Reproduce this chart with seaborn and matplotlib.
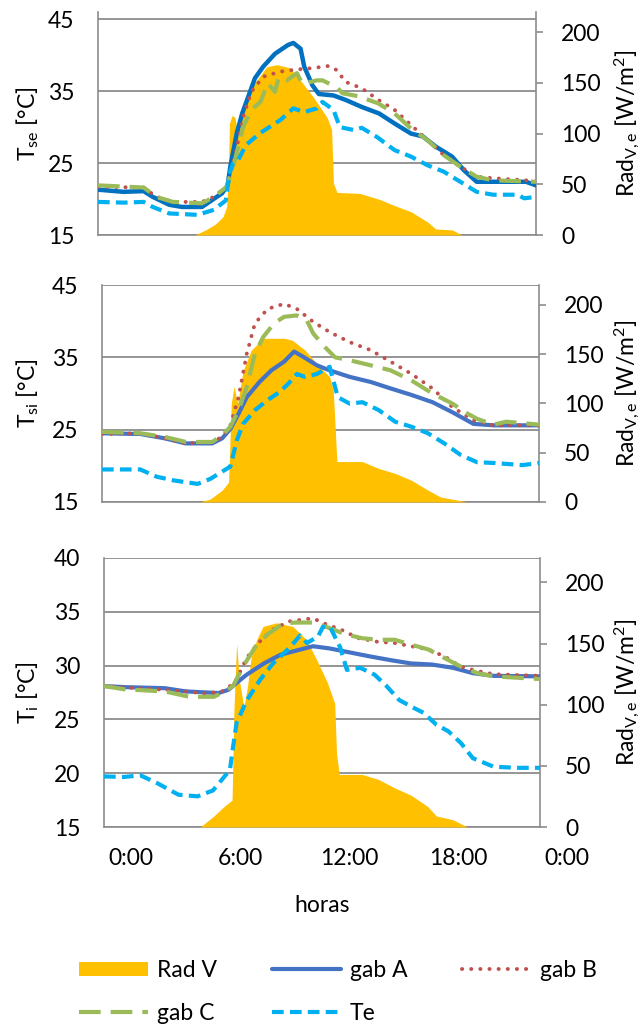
import matplotlib
matplotlib.use("Agg")
import matplotlib.pyplot as plt
import seaborn as sns
from matplotlib.patches import Patch
from matplotlib.lines import Line2D

# ── Dados (horas, valor) ──────────────────────────────────────────────────────
# Painel 1: temperatura superficial externa T_se
se_A_h = [-1.5, -0.1, 1.0, 1.5, 2.4, 3.1, 4.2, 4.6, 5.3, 5.6, 5.75, 6.1, 6.4, 6.8, 7.1, 7.55, 8.2, 8.9,
          9.2, 9.6, 9.8, 10.25, 10.6, 11.4, 12.05, 12.95, 13.9, 14.75, 15.65, 16.3, 17.0, 17.9, 18.55,
          19.25, 20.15, 21.95, 22.5]
se_A = [21.3, 21.0, 21.1, 20.3, 19.2, 18.9, 18.9, 19.6, 20.8, 21.9, 24.5, 29.1, 31.9, 34.7, 36.8, 38.4,
        40.2, 41.4, 41.7, 40.9, 38.4, 35.8, 34.6, 34.4, 33.8, 32.8, 31.9, 30.5, 29.1, 28.7, 27.3, 25.9,
        24.0, 22.4, 22.4, 22.4, 21.9]
se_B_h = [-1.5, 1.0, 1.7, 2.6, 4.2, 4.85, 5.55, 6.0, 6.45, 6.9, 7.55, 8.45, 9.35, 10.25, 11.15, 11.6,
          12.05, 12.95, 13.85, 14.75, 15.65, 16.55, 17.45, 18.35, 19.25, 20.15, 21.95, 22.5]
se_B = [21.7, 21.6, 20.3, 19.6, 19.6, 20.3, 21.7, 25.9, 31.4, 34.9, 37.0, 37.7, 38.0, 38.2, 38.5, 37.9,
        36.3, 35.4, 33.8, 32.4, 30.3, 28.2, 26.1, 24.5, 23.1, 22.9, 22.6, 22.4]
se_C_h = [-1.5, 1.0, 1.7, 2.6, 4.2, 4.85, 5.55, 6.0, 6.45, 6.9, 7.4, 7.8, 8.2, 8.4, 8.85, 9.4, 9.7,
          10.5, 10.8, 11.6, 11.9, 12.75, 13.85, 14.75, 15.65, 16.55, 17.45, 18.35, 19.25, 20.15, 22.5]
se_C = [21.9, 21.6, 20.3, 19.6, 19.4, 20.3, 21.7, 25.4, 30.0, 32.4, 33.5, 36.1, 34.9, 36.9, 36.5, 37.5,
        36.0, 36.5, 36.5, 35.5, 34.7, 34.3, 33.3, 31.9, 29.8, 28.2, 26.1, 24.5, 23.1, 22.6, 22.4]
se_Te_h = [-1.5, -0.1, 1.0, 1.5, 2.4, 3.95, 4.85, 5.5, 5.7, 5.9, 6.2, 6.6, 7.4, 8.5, 9.2, 9.8, 10.5,
           10.8, 11.4, 11.75, 12.5, 12.95, 13.8, 14.75, 15.65, 16.55, 17.45, 18.35, 19.25, 20.15,
           21.5, 21.85, 22.5]
se_Te = [19.6, 19.5, 19.6, 18.9, 18.0, 17.8, 18.5, 19.8, 23.5, 25.0, 25.5, 27.5, 29.2, 31.0, 32.6, 32.1,
         32.6, 33.5, 32.4, 30.0, 29.6, 29.9, 28.6, 26.8, 25.9, 24.7, 23.8, 22.4, 21.0, 20.6, 20.6, 20.1,
         20.3]
se_rad_h = [3.8, 4.4, 4.95, 5.35, 5.55, 5.65, 5.7, 5.85, 6.0, 6.1, 6.45, 7.0, 7.75, 8.3, 9.0, 9.7,
            10.3, 11.05, 11.3, 11.4, 11.6, 12.85, 13.95, 14.75, 15.65, 16.55, 17.0, 17.9, 18.45]
se_rad = [0, 5, 11, 18, 28, 60, 110, 118, 116, 106, 120, 148, 166, 168, 165, 150, 136, 116, 104, 51,
          42, 41, 35, 29, 23, 13, 6, 5, 0]

# Painel 2: temperatura superficial interna T_si
si_A_h = [-1.5, 0.6, 1.95, 3.1, 4.55, 5.1, 5.55, 6.0, 6.45, 7.15, 7.8, 8.5, 9.05, 9.6, 10.3, 11.0,
          12.1, 13.25, 14.35, 15.5, 16.65, 17.75, 18.9, 20.0, 22.5]
si_A = [24.5, 24.4, 23.8, 23.1, 23.1, 23.8, 25.1, 27.2, 29.5, 31.6, 33.2, 34.4, 35.8, 35.0, 33.9, 33.2,
        32.3, 31.6, 30.7, 29.8, 28.8, 27.4, 25.8, 25.6, 25.6]
si_B_h = [-1.5, 0.6, 1.95, 3.1, 4.55, 5.1, 5.55, 6.0, 6.45, 6.9, 7.6, 8.5, 9.2, 10.1, 11.0, 12.1, 13.25,
          14.35, 15.5, 16.65, 17.75, 18.9, 20.0, 22.5]
si_B = [24.4, 24.5, 23.8, 23.1, 23.3, 24.0, 25.6, 29.5, 35.5, 39.7, 41.7, 42.4, 41.7, 39.9, 38.5, 37.1,
        36.0, 34.4, 32.7, 30.7, 28.1, 26.3, 25.6, 25.6]
si_C_h = [-1.5, 0.6, 1.95, 3.1, 4.55, 5.1, 5.55, 6.0, 6.45, 6.9, 7.35, 7.95, 8.5, 9.2, 9.75, 10.1,
          10.75, 11.3, 12.1, 13.25, 14.35, 15.5, 16.65, 17.75, 18.45, 19.1, 20.0, 20.7, 22.5]
si_C = [24.7, 24.5, 24.0, 23.3, 23.3, 24.2, 25.4, 27.7, 30.9, 35.5, 37.8, 39.7, 40.6, 40.8, 40.1, 38.3,
        36.4, 35.0, 34.6, 33.9, 33.2, 31.8, 30.0, 28.6, 27.4, 26.5, 25.7, 26.1, 25.7]
si_Te_h = [-1.5, 0.6, 1.5, 2.4, 3.75, 4.45, 5.1, 5.55, 5.9, 6.25, 6.9, 7.6, 8.25, 8.75, 9.2, 9.65, 10.3,
           11.0, 11.45, 12.1, 12.8, 13.7, 14.6, 15.5, 16.4, 17.3, 18.2, 19.1, 20.0, 21.6, 22.5]
si_Te = [19.5, 19.5, 18.5, 18.0, 17.5, 18.2, 19.2, 19.9, 23.5, 25.8, 27.7, 29.1, 30.2, 31.4, 32.7, 32.3,
         32.7, 33.7, 29.5, 28.6, 28.8, 27.7, 26.1, 25.4, 24.5, 23.1, 21.5, 20.5, 20.4, 20.1, 20.4]
si_rad_h = [3.85, 4.45, 5.1, 5.45, 5.6, 5.75, 5.95, 6.25, 6.7, 7.15, 7.4, 8.5, 8.95, 9.65, 10.3, 11.0,
            11.2, 11.4, 12.8, 13.7, 14.6, 15.5, 16.4, 17.1, 18.0, 18.55]
si_rad = [0, 3, 12, 20, 100, 117, 100, 133, 154, 162, 166, 166, 164, 154, 140, 127, 113, 41, 41, 34,
          29, 22, 12, 5, 2, 0]

# Painel 3: temperatura interna T_i
i_A_h = [-1.5, -0.4, 1.85, 3.0, 4.8, 5.35, 5.8, 6.35, 7.3, 8.2, 9.1, 10.0, 10.9, 11.8, 13.15, 14.3,
         15.4, 16.55, 17.7, 18.8, 19.95, 22.5]
i_A = [28.1, 28.0, 27.9, 27.6, 27.45, 27.75, 28.4, 29.15, 30.2, 31.0, 31.4, 31.8, 31.6, 31.3, 30.85,
       30.5, 30.2, 30.1, 29.8, 29.3, 29.05, 29.0]
i_B_h = [-1.5, 1.85, 3.0, 4.1, 5.0, 5.7, 6.35, 7.05, 7.75, 8.65, 10.0, 10.65, 11.6, 12.5, 13.6, 14.5,
         15.4, 16.35, 17.25, 18.15, 19.05, 19.95, 22.5]
i_B = [28.1, 27.75, 27.6, 27.4, 27.6, 28.4, 30.7, 32.2, 33.3, 34.1, 34.4, 33.9, 33.3, 32.55, 32.2, 32.1,
       31.8, 31.5, 30.85, 29.9, 29.5, 29.2, 29.05]
i_C_h = [-1.5, -0.4, 1.85, 3.2, 4.55, 5.15, 5.6, 6.15, 6.85, 7.5, 8.4, 9.1, 10.0, 10.9, 11.8, 12.7,
         13.6, 14.5, 15.4, 16.35, 17.25, 18.15, 19.05, 19.95, 22.5]
i_C = [28.1, 27.8, 27.6, 27.1, 27.1, 27.6, 28.1, 29.9, 31.8, 32.9, 33.95, 34.0, 34.0, 33.5, 32.9, 32.55,
       32.4, 32.4, 31.95, 31.5, 30.7, 29.9, 29.3, 29.0, 28.75]
i_Te_h = [-1.5, -0.4, 0.5, 1.4, 2.6, 3.65, 4.5, 5.43, 5.6, 5.8, 6.37, 7.1, 7.8, 8.74, 9.29, 9.67, 10.28,
          10.55, 10.94, 11.5, 11.87, 12.6, 13.4, 14.05, 14.75, 15.4, 16.1, 16.8, 17.45, 18.15, 18.8,
          19.95, 21.3, 22.5]
i_Te = [19.7, 19.65, 19.8, 19.1, 18.0, 17.85, 18.4, 20.3, 22.4, 24.7, 26.8, 28.7, 30.2, 31.7, 32.8,
        32.1, 32.7, 33.6, 33.6, 31.7, 29.6, 29.8, 29.15, 28.1, 26.8, 26.2, 25.6, 24.5, 23.9, 22.8, 21.4,
        20.6, 20.5, 20.5]
i_rad_h = [3.8, 4.55, 5.05, 5.55, 5.65, 5.8, 5.95, 6.2, 6.4, 6.6, 6.9, 7.25, 8.0, 8.9, 9.65, 10.2, 10.8,
           11.2, 11.3, 11.45, 12.7, 13.6, 14.5, 15.4, 16.3, 16.8, 17.7, 18.5]
i_rad = [0, 9, 16, 22, 95, 150, 120, 98, 115, 139, 153, 164, 167, 164, 153, 137, 118, 101, 60, 43, 43,
         39, 32, 26, 17, 9, 6, 0]

hora_ticks = [0, 6, 12, 18]
hora_labels = ["0:00", "6:00", "12:00", "18:00"]
rad_ticks = [0, 50, 100, 150, 200]

# ── Estilo ────────────────────────────────────────────────────────────────────
AMARELO = "#FFC000"
AZUL_1 = "#0070C0"
AZUL = "#4472C4"
VERMELHO = "#C0504D"
VERDE = "#9BBB59"
CIANO = "#00B0F0"
CINZA = "#8C8C8C"
FS = 16.5

sns.set_theme(style="white", rc={"text.color": "black", "axes.labelcolor": "black",
                                 "xtick.color": "black", "ytick.color": "black"})
plt.rcParams["font.family"] = ["Lato", "DejaVu Sans"]
plt.rcParams["mathtext.fontset"] = "custom"
plt.rcParams["mathtext.rm"] = "Lato"
plt.rcParams["mathtext.it"] = "Lato:italic"

LW_B, LW_C, LW_TE = 2.8, 3.0, 3.0
LS_B = (0, (0.05, 2.3))
LS_C = (0, (5.2, 2.4))
LS_TE = (0, (2.8, 1.5))

fig = plt.figure(figsize=(6.44, 10.30), dpi=100)


def rect(l, t, r, b):
    return [l / 644, 1 - b / 1030, (r - l) / 644, (b - t) / 1030]


def painel(box, t_lim, t_ticks, ylabel, A, B, C, Te, rad, cor_A, lw_A, mostra_x):
    l, t, r, b = box
    ax = fig.add_axes(rect(*box))     # grade + eixo esquerdo
    axr = ax.twinx()                  # radiação (eixo direito)
    axl = ax.twinx()                  # linhas de temperatura por cima da área

    axr.fill_between(rad[0], rad[1], color=AMARELO, lw=0)

    sns.lineplot(x=A[0], y=A[1], ax=axl, color=cor_A, lw=lw_A)
    sns.lineplot(x=B[0], y=B[1], ax=axl, color=VERMELHO, lw=LW_B, linestyle=LS_B,
                 dash_capstyle="round")
    sns.lineplot(x=C[0], y=C[1], ax=axl, color=VERDE, lw=LW_C, linestyle=LS_C)
    sns.lineplot(x=Te[0], y=Te[1], ax=axl, color=CIANO, lw=LW_TE, linestyle=LS_TE)

    for a in (ax, axl):
        a.set_ylim(*t_lim)
    axr.set_ylim(0, 220)
    axl.axis("off")

    ax.set_yticks(t_ticks)
    ax.yaxis.grid(True, color=CINZA, lw=1.3)
    ax.xaxis.grid(False)
    ax.set_axisbelow(True)
    ax.tick_params(axis="y", length=0, pad=17, labelsize=FS)
    for s in ("top", "right"):
        ax.spines[s].set_visible(False)
    for s in ("left", "bottom"):
        ax.spines[s].set_color(CINZA)
        ax.spines[s].set_linewidth(1.2)

    axr.set_yticks(rad_ticks)
    axr.tick_params(axis="y", length=5, width=1.2, color=CINZA, pad=13, labelsize=FS, direction="out")
    for s in ("top", "left", "bottom"):
        axr.spines[s].set_visible(False)
    axr.spines["right"].set_color(CINZA)
    axr.spines["right"].set_linewidth(1.2)

    w = r - l
    ax.set_ylabel(ylabel, fontsize=FS)
    ax.yaxis.set_label_coords((28 - l) / w, 0.5)
    ax.yaxis.label.set_va("center")
    axr.set_ylabel(r"Rad$_{\mathrm{V,e}}$ [W/m$^{2}$]", fontsize=FS)
    axr.yaxis.set_label_coords((627 - l) / w, 0.5)
    axr.yaxis.label.set_va("center")

    ax.set_xlim(-1.5, 22.5)
    if mostra_x:
        ax.set_xticks(hora_ticks)
        ax.set_xticklabels(hora_labels)
        ax.tick_params(axis="x", length=0, pad=15, labelsize=FS)
        ax.annotate("0:00", xy=(24, 0), xycoords=ax.get_xaxis_transform(),
                    xytext=(0, -15), textcoords="offset points", ha="center", va="top",
                    fontsize=FS, annotation_clip=False)
        ax.set_xlabel("horas", fontsize=FS)
        ax.xaxis.set_label_coords(0.5, -0.29)
        ax.xaxis.label.set_va("center")
    else:
        ax.set_xticks([])
    return ax


painel((98, 12, 536, 235), (15, 46), [15, 25, 35, 45], r"T$_{\mathrm{se}}$ [°C]",
       (se_A_h, se_A), (se_B_h, se_B), (se_C_h, se_C), (se_Te_h, se_Te), (se_rad_h, se_rad),
       AZUL_1, 3.2, False)
painel((102, 285, 539, 502), (15, 45), [15, 25, 35, 45], r"T$_{\mathrm{si}}$ [°C]",
       (si_A_h, si_A), (si_B_h, si_B), (si_C_h, si_C), (si_Te_h, si_Te), (si_rad_h, si_rad),
       AZUL, 3.0, False)
painel((104, 558, 540, 827), (15, 40), [15, 20, 25, 30, 35, 40], r"T$_{\mathrm{i}}$ [°C]",
       (i_A_h, i_A), (i_B_h, i_B), (i_C_h, i_C), (i_Te_h, i_Te), (i_rad_h, i_rad),
       AZUL, 3.0, True)

# legenda: ordem por colunas para obter as linhas [Rad V, gab A, gab B] / [gab C, Te]
h_rad = Patch(facecolor=AMARELO, edgecolor="none")
h_A = Line2D([], [], color=AZUL, lw=3.0)
h_B = Line2D([], [], color=VERMELHO, lw=LW_B, linestyle=LS_B, dash_capstyle="round")
h_C = Line2D([], [], color=VERDE, lw=LW_C, linestyle=LS_C)
h_Te = Line2D([], [], color=CIANO, lw=LW_TE, linestyle=LS_TE)
fig.legend([h_rad, h_C, h_A, h_Te, h_B], ["Rad V", "gab C", "gab A", "Te", "gab B"],
           ncol=3, loc="center", bbox_to_anchor=(0.525, 0.037), frameon=False, fontsize=FS,
           handlelength=3.0, handleheight=0.6, handletextpad=0.4, columnspacing=2.4,
           labelspacing=0.95)

fig.savefig("out.png", dpi=100)
